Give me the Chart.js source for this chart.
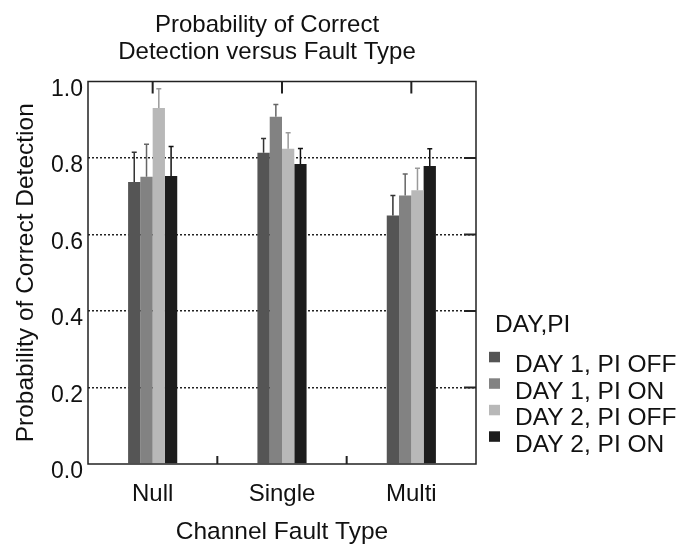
<!DOCTYPE html>
<html>
<head>
<meta charset="utf-8">
<script src="https://cdn.jsdelivr.net/npm/chart.js@4"></script>
<style>
  html, body { margin: 0; padding: 0; background: #ffffff; }
  #wrap { width: 689px; height: 549px; }
</style>
</head>
<body>
<div id="wrap"><canvas id="c" width="689" height="549"></canvas></div>
<script>
// ---- data ----
const categories = ["Null", "Single", "Multi"];
const seriesNames = ["DAY 1, PI OFF", "DAY 1, PI ON", "DAY 2, PI OFF", "DAY 2, PI ON"];
const day1PiOff = [0.737, 0.814, 0.650];
const day1PiOn  = [0.751, 0.908, 0.702];
const day2PiOff = [0.931, 0.824, 0.716];
const day2PiOn  = [0.753, 0.784, 0.779];
// upper error-bar lengths
const day1PiOffErr = [0.078, 0.037, 0.052];
const day1PiOnErr  = [0.085, 0.032, 0.056];
const day2PiOffErr = [0.050, 0.042, 0.057];
const day2PiOnErr  = [0.077, 0.041, 0.045];
const yTicks = [0.0, 0.2, 0.4, 0.6, 0.8, 1.0];
const titleLines = ["Probability of Correct", "Detection versus Fault Type"];
const legendTitle = "DAY,PI";
const xTitle = "Channel Fault Type";
const yTitle = "Probability of Correct Detection";

// ---- styles ----
const FONT = '"Liberation Sans", Arial, Helvetica, sans-serif';
const barColors = ["#555555", "#828282", "#b8b8b8", "#1c1c1c"];
const errColors = ["#333333", "#666666", "#9a9a9a", "#111111"];
const values = [day1PiOff, day1PiOn, day2PiOff, day2PiOn];
const errors = [day1PiOffErr, day1PiOnErr, day2PiOffErr, day2PiOnErr];

const datasets = seriesNames.map((name, i) => ({
  label: name,
  data: values[i],
  errUp: errors[i],
  errColor: errColors[i],
  backgroundColor: barColors[i],
  borderWidth: 0,
  categoryPercentage: 0.38,
  barPercentage: 1.0
}));

const decorPlugin = {
  id: 'decor',
  afterDatasetsDraw(chart) {
    const ctx = chart.ctx;
    const yS = chart.scales.y;
    const xS = chart.scales.x;
    const a = chart.chartArea;
    ctx.save();
    // error bars
    chart.data.datasets.forEach((ds, di) => {
      const meta = chart.getDatasetMeta(di);
      meta.data.forEach((bar, i) => {
        const top = yS.getPixelForValue(ds.data[i] + ds.errUp[i]);
        ctx.strokeStyle = ds.errColor;
        ctx.lineWidth = 1.5;
        ctx.beginPath();
        ctx.moveTo(bar.x, bar.y);
        ctx.lineTo(bar.x, top);
        ctx.moveTo(bar.x - 2.5, top);
        ctx.lineTo(bar.x + 2.5, top);
        ctx.stroke();
      });
    });
    // frame
    ctx.strokeStyle = '#222';
    ctx.lineWidth = 1.5;
    ctx.strokeRect(a.left, a.top, a.right - a.left, a.bottom - a.top);
    ctx.lineWidth = 2;
    ctx.beginPath();
    // top ticks at category centres
    categories.forEach((c, i) => {
      const x = xS.getPixelForValue(i);
      ctx.moveTo(x, a.top);
      ctx.lineTo(x, a.top + 12);
    });
    // bottom ticks at category boundaries
    for (let i = 0; i < categories.length - 1; i++) {
      const x = (xS.getPixelForValue(i) + xS.getPixelForValue(i + 1)) / 2;
      ctx.moveTo(x, a.bottom);
      ctx.lineTo(x, a.bottom - 8);
    }
    // right ticks at grid values
    yTicks.slice(1, -1).forEach(v => {
      const y = yS.getPixelForValue(v);
      ctx.moveTo(a.right - 12, y);
      ctx.lineTo(a.right, y);
    });
    ctx.stroke();

    // title
    ctx.fillStyle = '#111';
    ctx.font = '24px ' + FONT;
    ctx.textAlign = 'center';
    ctx.textBaseline = 'alphabetic';
    ctx.fillText(titleLines[0], 267, 32);
    ctx.fillText(titleLines[1], 267, 59);

    // legend
    ctx.textAlign = 'left';
    ctx.font = '24.5px ' + FONT;
    ctx.fillText(legendTitle, 495, 332);
    chart.data.datasets.forEach((ds, i) => {
      const base = 372.3 + i * 26.5;
      ctx.fillStyle = ds.backgroundColor;
      ctx.fillRect(489, base - 20.5, 11, 10.5);
      ctx.fillStyle = '#111';
      ctx.fillText(ds.label, 515, base);
    });
    ctx.restore();
  }
};

new Chart(document.getElementById('c'), {
  type: 'bar',
  data: { labels: categories, datasets },
  options: {
    responsive: false,
    maintainAspectRatio: false,
    devicePixelRatio: 1,
    animation: false,
    layout: { padding: { top: 81.5, right: 213, bottom: 0, left: 0 } },
    plugins: {
      legend: { display: false },
      title: { display: false },
      tooltip: { enabled: false }
    },
    scales: {
      x: {
        afterFit: s => { s.height = 85; },
        grid: { display: false, drawTicks: false },
        border: { display: false },
        ticks: { color: '#111', font: { family: FONT, size: 24 }, padding: 16 },
        title: { display: true, text: xTitle, color: '#111', font: { family: FONT, size: 24.5 }, padding: { top: 0, bottom: 2 } }
      },
      y: {
        min: 0, max: 1,
        afterFit: s => { s.width = 88; },
        afterBuildTicks: s => { s.ticks = yTicks.map(v => ({ value: v })); },
        border: { display: false, dash: [2, 2] },
        grid: {
          drawTicks: false,
          lineWidth: 1.5,
          color: c => (c.tick && (c.tick.value === 0 || c.tick.value === 1)) ? 'rgba(0,0,0,0)' : '#222',
        },
        ticks: {
          color: '#111',
          font: { family: FONT, size: 23 },
          padding: 5,
          labelOffset: 8,
          callback: v => Number(v).toFixed(1)
        },
        title: { display: true, text: yTitle, color: '#111', font: { family: FONT, size: 24.5 }, padding: { top: 12, bottom: 0 } }
      }
    }
  },
  plugins: [decorPlugin]
});
</script>
</body>
</html>
